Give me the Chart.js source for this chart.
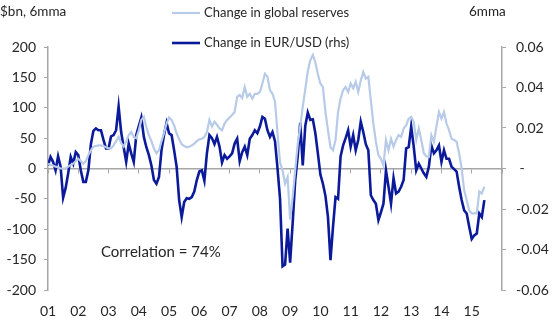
<!DOCTYPE html>
<html>
<head>
<meta charset="utf-8">
<script src="https://cdn.jsdelivr.net/npm/chart.js@4/dist/chart.umd.min.js"></script>
<style>
html,body{margin:0;padding:0;background:#fff;}
#wrap{width:556px;height:323px;}
</style>
</head>
<body>
<div id="wrap"><canvas id="c" width="556" height="323"></canvas></div>
<script>
// Monthly observations, Jan 2001 .. Jun 2015 (month index 0 = Jan 2001)
const seriesNames = ['Change in global reserves', 'Change in EUR/USD (rhs)'];
const yearLabels = ['01','02','03','04','05','06','07','08','09','10','11','12','13','14','15'];
const axisTitles = ['$bn, 6mma', '6mma'];
const annotationText = 'Correlation = 74%';

// Change in global reserves, $bn, 6mma (left axis)
const globalReserves = [
  8, 6, 5, 3, 2, 0, 0, 0, 3, 6, 8, 12,
  16, 12, 8, 12, 22, 30, 36, 37, 38, 38, 37, 35,
  33, 33, 38, 45, 52, 42, 36, 45, 55, 60, 52, 50,
  63, 80, 85, 68, 55, 45, 33, 25, 30, 45, 58, 74,
  84, 80, 71, 58, 48, 40, 37, 35, 36, 38, 41, 45,
  48, 49, 52, 60, 80, 69, 77, 72, 66, 63, 74, 80,
  84, 88, 93, 118, 121, 116, 134, 118, 123, 115, 123, 123,
  126, 140, 156, 151, 129, 123, 110, 58, 10, -3, -25, -14,
  -84, -47, -3, 40, 69, 102, 130, 160, 178, 187, 175, 155,
  140, 134, 93, 63, 35, 30, 47, 93, 115, 129, 134, 126,
  140, 132, 143, 126, 145, 159, 148, 151, 112, 74, 44, 22,
  16, 5, 47, 30, 49, 36, 47, 55, 52, 66, 71, 82,
  85, 77, 47, 66, 47, 25, 20, 19, 55, 44, 69, 93,
  82, 93, 74, 63, 49, 47, 44, 25, 0, -36, -52, -69,
  -74, -74, -74, -38, -41, -30
];

// Change in EUR/USD, 6mma (right axis)
const eurUsd = [
  0.0015, 0.0057, 0.0033, -0.0009, 0.0060, 0.0009, -0.0144, -0.0096, -0.0024, 0.0057, 0.0024, 0.0081,
  0.0066, -0.0009, -0.0066, -0.0066, -0.0009, 0.0120, 0.0186, 0.0198, 0.0189, 0.0189, 0.0141, 0.0099,
  0.0099, 0.0159, 0.0165, 0.0189, 0.0306, 0.0180, 0.0105, 0.0033, 0.0123, 0.0075, 0.0033, 0.0165,
  0.0210, 0.0252, 0.0156, 0.0105, 0.0066, 0.0015, -0.0057, -0.0075, -0.0042, 0.0090, 0.0165, 0.0225,
  0.0174, 0.0165, 0.0090, 0.0009, -0.0156, -0.0240, -0.0165, -0.0147, -0.0150, -0.0141, -0.0114, -0.0057,
  -0.0015, -0.0009, -0.0060, 0.0075, 0.0165, 0.0150, 0.0120, 0.0156, 0.0108, 0.0030, 0.0066, 0.0048,
  0.0060, 0.0075, 0.0123, 0.0147, 0.0036, 0.0081, 0.0108, 0.0066, 0.0147, 0.0165, 0.0189, 0.0174,
  0.0207, 0.0255, 0.0246, 0.0189, 0.0156, 0.0180, 0.0135, 0.0000, -0.0150, -0.0483, -0.0474, -0.0297,
  -0.0465, -0.0270, -0.0060, 0.0060, 0.0225, 0.0015, 0.0210, 0.0276, 0.0240, 0.0243, 0.0174, 0.0075,
  -0.0030, -0.0075, -0.0135, -0.0240, -0.0453, -0.0288, -0.0141, -0.0150, 0.0060, 0.0114, 0.0150, 0.0189,
  0.0108, 0.0165, 0.0090, 0.0141, 0.0231, 0.0180, 0.0120, 0.0090, -0.0132, -0.0156, -0.0174, -0.0255,
  -0.0216, -0.0174, -0.0009, -0.0090, -0.0174, -0.0048, -0.0123, -0.0114, -0.0090, -0.0057, 0.0099, 0.0105,
  0.0207, 0.0108, -0.0009, 0.0024, 0.0000, -0.0024, -0.0042, 0.0009, 0.0114, 0.0075, 0.0090, 0.0114,
  0.0033, 0.0090, 0.0048, 0.0048, 0.0009, -0.0003, -0.0015, -0.0090, -0.0156, -0.0207, -0.0222, -0.0288,
  -0.0348, -0.0330, -0.0321, -0.0222, -0.0240, -0.0156
];

const FONT = 'Lato, "Open Sans", sans-serif';
const TEXT = '#262626';
const AXIS = '#a6a6a6';
const LIGHT = '#b7cbe8';
const DARK = '#0a1a9a';

const toPoints = arr => arr.map((v, i) => ({x: i, y: v}));

const textPlugin = {
  id: 'texts',
  afterDraw(chart) {
    const ctx = chart.ctx;
    ctx.save();
    ctx.font = '13.5px ' + FONT;
    ctx.fillStyle = TEXT;
    ctx.textBaseline = 'middle';
    ctx.textAlign = 'left';
    ctx.fillText(axisTitles[0], 0, 12);
    ctx.fillText(axisTitles[1], 469, 12);
    // legend
    ctx.font = '13px ' + FONT;
    const rows = [13, 43];
    chart.data.datasets.forEach((ds, i) => {
      ctx.strokeStyle = ds.borderColor;
      ctx.lineWidth = ds.borderWidth;
      ctx.beginPath();
      ctx.moveTo(172, rows[i]);
      ctx.lineTo(200, rows[i]);
      ctx.stroke();
      ctx.fillText(ds.label, 204, rows[i]);
    });
    // correlation annotation
    ctx.font = '15px ' + FONT;
    const xs = chart.scales.x, ys = chart.scales.y;
    ctx.fillText(annotationText, xs.getPixelForValue(21), ys.getPixelForValue(-138));
    ctx.restore();
  }
};

new Chart(document.getElementById('c'), {
  type: 'line',
  data: {
    datasets: [
      {label: seriesNames[0], data: toPoints(globalReserves), yAxisID: 'y', xAxisID: 'x',
       borderColor: LIGHT, borderWidth: 2.2, pointRadius: 0, tension: 0},
      {label: seriesNames[1], data: toPoints(eurUsd), yAxisID: 'y2', xAxisID: 'x',
       borderColor: DARK, borderWidth: 2.6, pointRadius: 0, tension: 0}
    ]
  },
  plugins: [textPlugin],
  options: {
    responsive: false,
    animation: false,
    devicePixelRatio: 1,
    layout: {padding: {top: 47, left: 0, right: 0, bottom: 0}},
    plugins: {legend: {display: false}, tooltip: {enabled: false}},
    scales: {
      x: {
        type: 'linear', axis: 'x', position: {y: 0}, min: 0, max: 180,
        ticks: {display: false, stepSize: 12},
        grid: {drawOnChartArea: false, drawTicks: true, tickLength: 4, color: AXIS, lineWidth: 1},
        border: {display: true, color: AXIS, width: 1.5}
      },
      xb: {
        type: 'linear', axis: 'x', position: 'bottom', min: 0, max: 180,
        afterFit: s => { s.height = 33; },
        ticks: {stepSize: 12, padding: 13, color: TEXT, font: {family: FONT, size: 14},
                maxRotation: 0, autoSkip: false,
                callback: v => yearLabels[Math.round(v / 12)] || ''},
        grid: {display: false, drawTicks: false},
        border: {display: false}
      },
      y: {
        position: 'left', min: -200, max: 200,
        afterFit: s => { s.width = 48; },
        ticks: {stepSize: 50, padding: 8, color: TEXT, font: {family: FONT, size: 14}},
        grid: {drawOnChartArea: false, drawTicks: true, tickLength: 4, color: AXIS},
        border: {display: true, color: AXIS, width: 1.5}
      },
      y2: {
        position: 'right', min: -0.06, max: 0.06,
        afterFit: s => { s.width = 556 - 502; },
        ticks: {stepSize: 0.02, padding: 10, color: TEXT, font: {family: FONT, size: 14},
                callback: v => Math.abs(v) < 1e-9 ? ' -' : v.toFixed(2)},
        grid: {drawOnChartArea: false, drawTicks: true, tickLength: 4, color: AXIS},
        border: {display: true, color: AXIS, width: 1.5}
      }
    }
  }
});
</script>
</body>
</html>
